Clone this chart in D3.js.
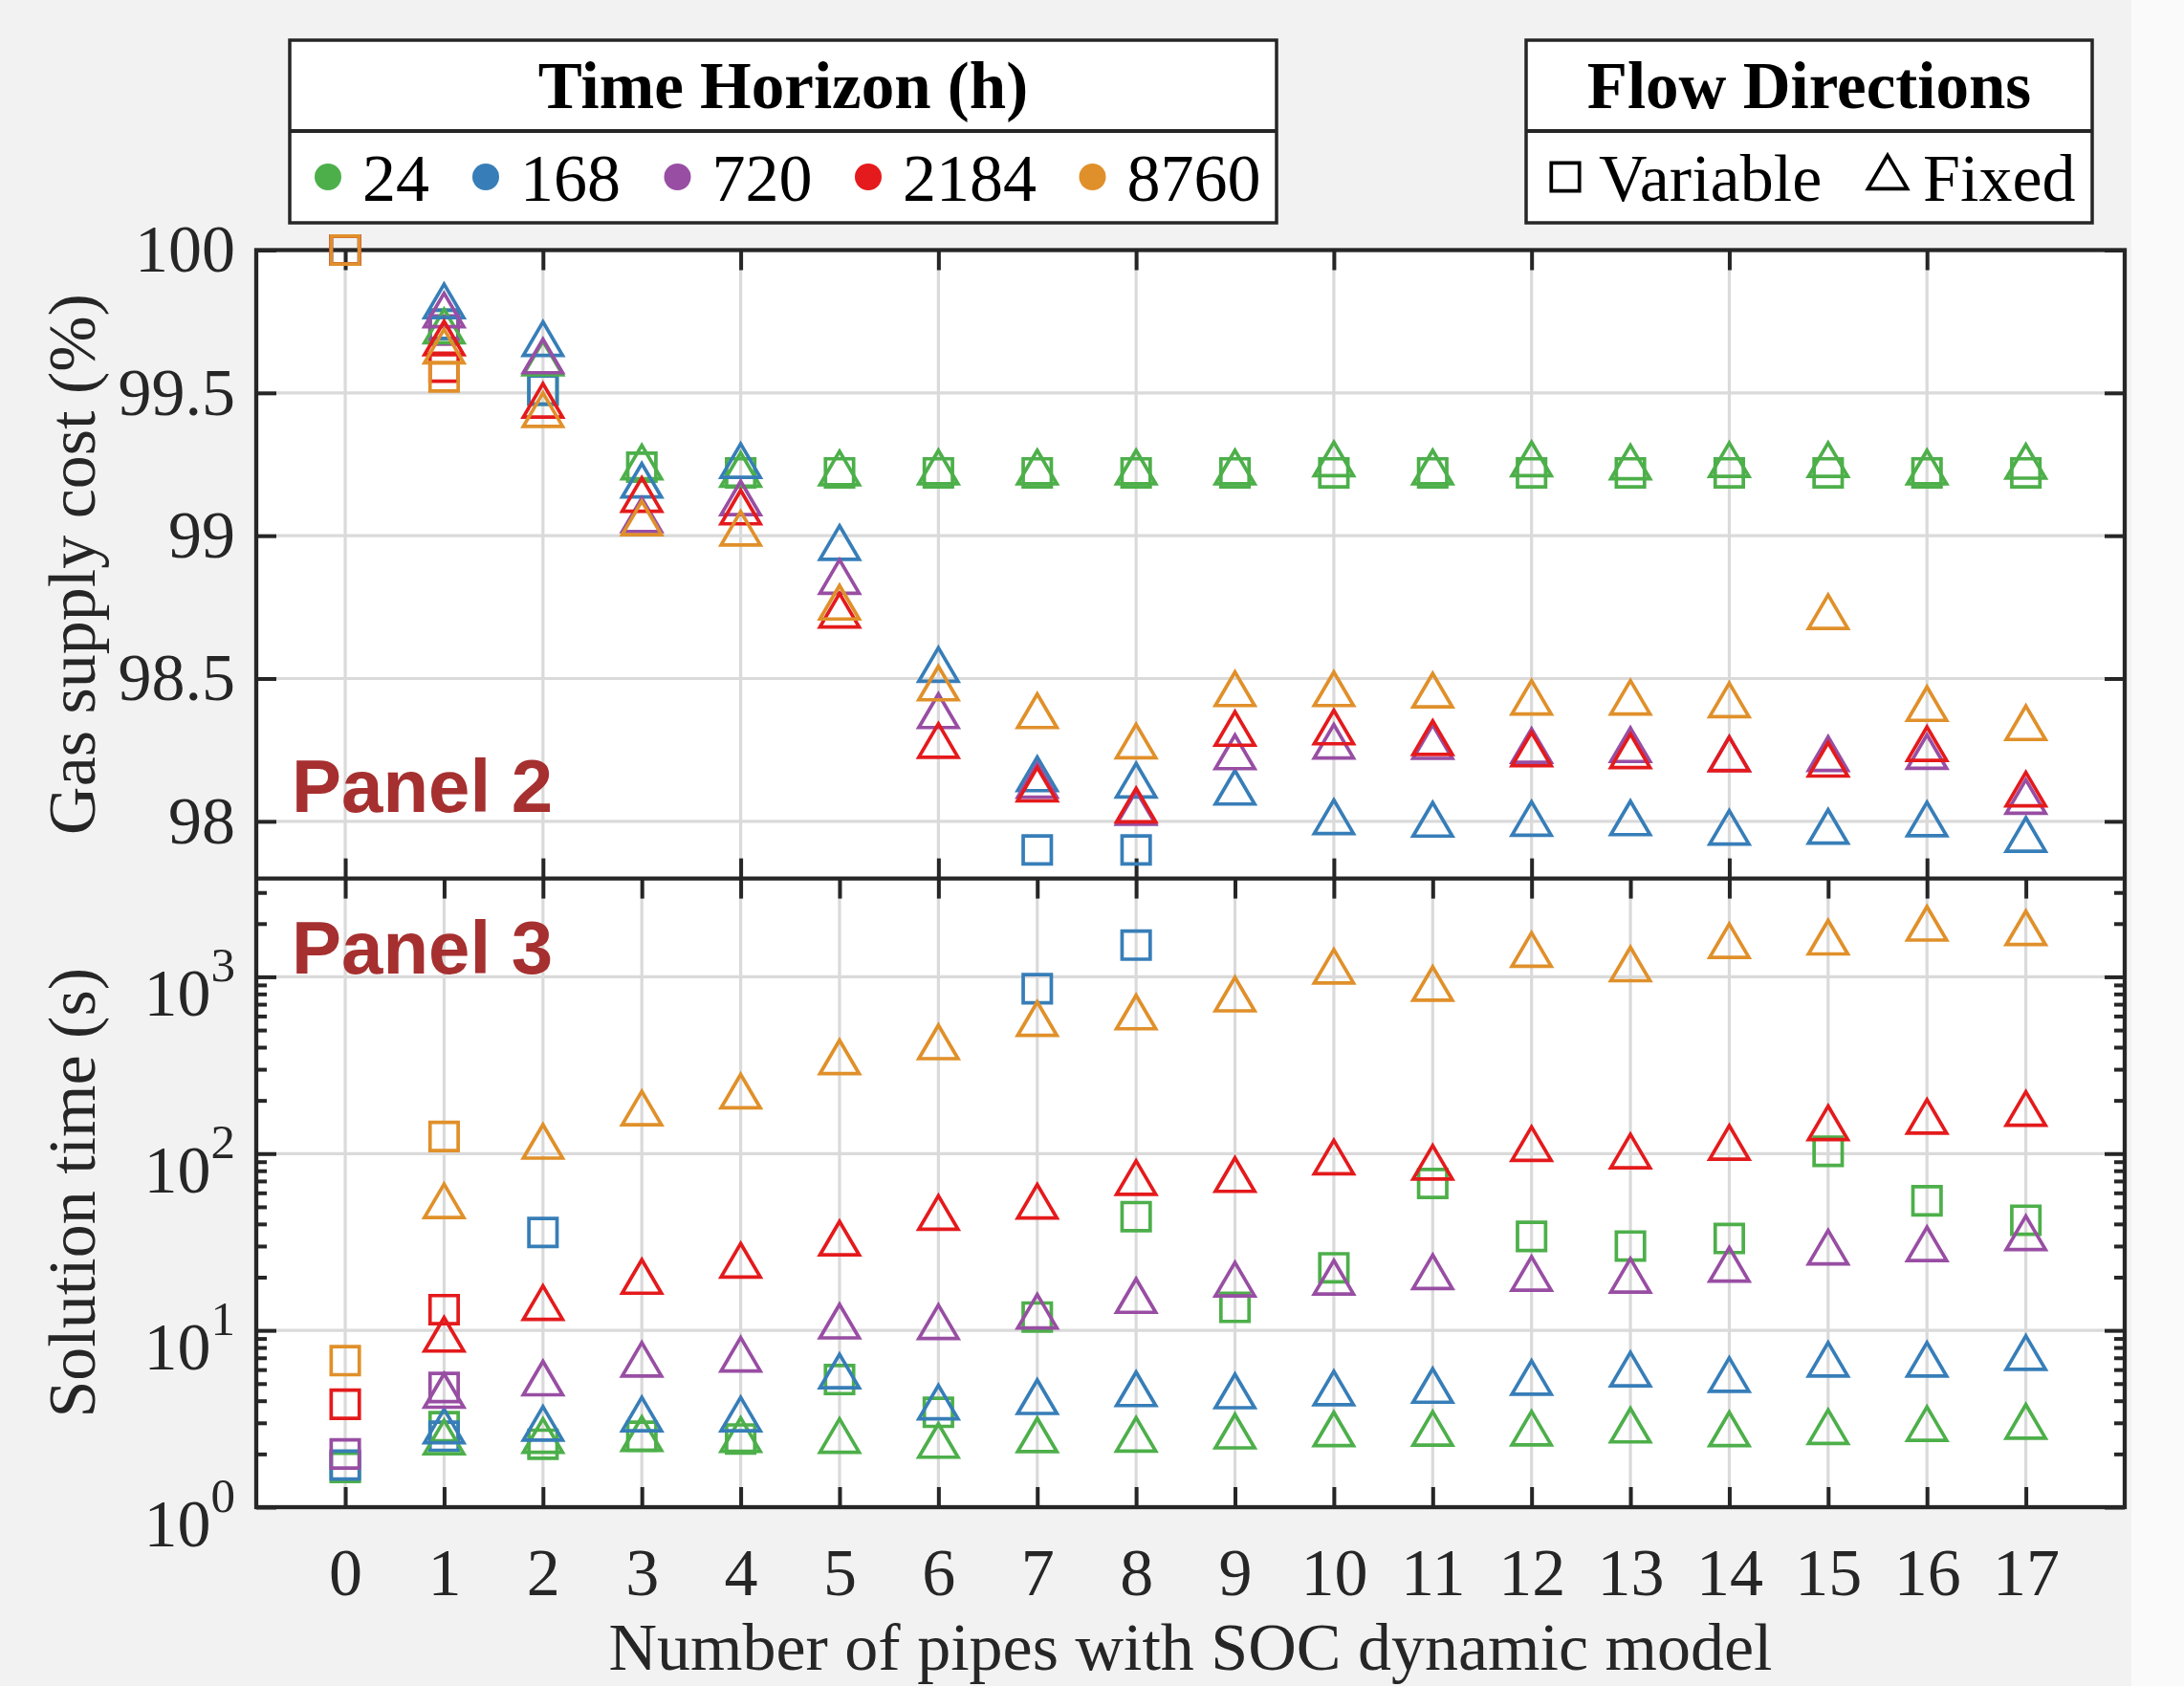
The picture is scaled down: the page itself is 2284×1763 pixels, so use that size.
<!DOCTYPE html>
<html><head><meta charset="utf-8">
<script src="https://cdn.jsdelivr.net/npm/d3@7"></script>
<style>body{margin:0;background:#F2F2F2;} svg{display:block}</style>
</head><body><svg id="c" width="2284" height="1763"></svg>
<script>
// ---------------- DATA ----------------
const pipes = [0,1,2,3,4,5,6,7,8,9,10,11,12,13,14,15,16,17];
const horizons = ["24","168","720","2184","8760"];
const seriesColors = ["#4DAF4A","#377EB8","#984EA3","#E41A1C","#E0902A"];
const flowLabels = ["Variable","Fixed"];
const costTicks = [98, 98.5, 99, 99.5, 100];
const timeTicks = [1, 10, 100, 1000];
const timeTickExp = ["0","1","2","3"];
const costPipeTicks = [0,2,4,6,8,10,12,14,16];

// Gas supply cost (%) – variable flow directions (squares)
const costVar24   = [100, 99.74, 99.51, 99.24, 99.22, 99.22, 99.22, 99.22, 99.22, 99.22, 99.22, 99.22, 99.22, 99.22, 99.22, 99.22, 99.22, 99.22];
const costVar168  = [100, 99.74, 99.51, null, null, null, null, 97.90, 97.90, null, null, null, null, null, null, null, null, null];
const costVar720  = [100, 99.72, null, null, null, null, null, null, null, null, null, null, null, null, null, null, null, null];
const costVar2184 = [100, 99.59, null, null, null, null, null, null, null, null, null, null, null, null, null, null, null, null];
const costVar8760 = [100, 99.556, null, null, null, null, null, null, null, null, null, null, null, null, null, null, null, null];
// Gas supply cost (%) – fixed flow directions (triangles)
const costFix24   = [null, 99.737, 99.625, 99.261, 99.235, 99.240, 99.243, 99.243, 99.243, 99.243, 99.272, 99.243, 99.272, 99.261, 99.269, 99.269, 99.243, 99.263];
const costFix168  = [null, 99.825, 99.693, 99.197, 99.266, 98.979, 98.552, 98.169, 98.147, 98.122, 98.019, 98.010, 98.013, 98.015, 97.982, 97.985, 98.011, 97.957];
const costFix720  = [null, 99.793, 99.632, 99.076, 99.135, 98.860, 98.390, 98.146, 98.051, 98.246, 98.283, 98.282, 98.268, 98.271, 98.240, 98.240, 98.247, 98.090];
const costFix2184 = [null, 99.695, 99.477, 99.147, 99.103, 98.742, 98.286, 98.133, 98.060, 98.328, 98.333, 98.296, 98.256, 98.250, 98.239, 98.220, 98.275, 98.116];
const costFix8760 = [null, 99.667, 99.444, 99.065, 99.029, 98.770, 98.487, 98.390, 98.284, 98.467, 98.467, 98.462, 98.437, 98.437, 98.428, 98.737, 98.415, 98.348];

// Solution time (s) – variable flow directions (squares)
const timeVar24   = [1.68, 2.85, 2.27, 2.52, 2.43, 5.27, 3.44, 11.9, 44.0, 13.5, 22.6, 67.8, 34.0, 30.0, 33.1, 103, 54.1, 42.0];
const timeVar168  = [1.73, 2.52, 35.8, null, null, null, null, 856, 1511, null, null, null, null, null, null, null, null, null];
const timeVar720  = [2.00, 4.75, null, null, null, null, null, null, null, null, null, null, null, null, null, null, null, null];
const timeVar2184 = [3.82, 13.1, null, null, null, null, null, null, null, null, null, null, null, null, null, null, null, null];
const timeVar8760 = [6.74, 125, null, null, null, null, null, null, null, null, null, null, null, null, null, null, null, null];
// Solution time (s) – fixed flow directions (triangles)
const timeFix24   = [null, 2.52, 2.57, 2.63, 2.60, 2.57, 2.41, 2.59, 2.61, 2.72, 2.80, 2.82, 2.83, 2.94, 2.80, 2.88, 3.00, 3.09];
const timeFix168  = [null, 2.91, 3.01, 3.40, 3.40, 5.95, 3.97, 4.26, 4.72, 4.59, 4.77, 4.93, 5.47, 6.10, 5.68, 6.93, 6.93, 7.57];
const timeFix720  = [null, 4.62, 5.43, 6.93, 7.40, 11.4, 11.3, 12.97, 15.9, 19.7, 20.2, 21.7, 21.2, 20.7, 23.9, 29.9, 31.2, 36.0];
const timeFix2184 = [null, 9.6, 14.5, 20.4, 25.2, 33.6, 46.9, 54.3, 73.9, 76.9, 96.7, 90.3, 115, 104.5, 117, 151, 164, 182];
const timeFix8760 = [null, 54.7, 118.5, 183, 228, 356, 433, 586, 639, 807, 1160, 926, 1442, 1195, 1619, 1693, 2029, 1913];

// ---------------- LAYOUT ----------------
const W = 2284, H = 1763;
const L = 268, R = 2222, T2 = 261.5, B2 = 918.6, T3 = 918.6, B3 = 1576;
const AX = "#262626", GRID = "#DADADA";
const SERIF = "'Liberation Serif','Times New Roman',serif";
const SANS = "'Liberation Sans',Arial,sans-serif";
const FS = 70;
const MSW = 3.7;
const TW = 41, TH = 35, TOFF = 0.85, SQ = 29.4;

const svg = d3.select("#c");
svg.append("rect").attr("width", W).attr("height", H).attr("fill", "#F2F2F2");
svg.append("rect").attr("x", 2229).attr("width", W - 2229).attr("height", H).attr("fill", "#FAFAFA");

const x = d3.scaleLinear().domain([-0.9, 18]).range([L, R]);
const y2 = d3.scaleLinear().domain([97.8, 100]).range([B2, T2]);
const y3 = d3.scaleLog().domain([1, 3600]).range([B3, T3]);

svg.append("rect").attr("x", L).attr("y", T2).attr("width", R - L).attr("height", B3 - T2).attr("fill", "#fff");

// grid
const grid = svg.append("g").attr("stroke", GRID).attr("stroke-width", 3.2);
grid.selectAll(".gx2").data(costPipeTicks).join("line").attr("class","gx2")
  .attr("x1", d => x(d)).attr("x2", d => x(d)).attr("y1", T2).attr("y2", B2);
grid.selectAll(".gy2").data(costTicks.filter(d => d < 100)).join("line").attr("class","gy2")
  .attr("x1", L).attr("x2", R).attr("y1", d => y2(d)).attr("y2", d => y2(d));
grid.selectAll(".gx3").data(pipes).join("line").attr("class","gx3")
  .attr("x1", d => x(d)).attr("x2", d => x(d)).attr("y1", T3).attr("y2", B3);
grid.selectAll(".gy3").data(timeTicks.filter(d => d > 1)).join("line").attr("class","gy3")
  .attr("x1", L).attr("x2", R).attr("y1", d => y3(d)).attr("y2", d => y3(d));

function styleAxis(g) {
  g.attr("color", AX).attr("font-family", SERIF).attr("font-size", FS);
  g.select(".domain").remove();
  g.selectAll("line").attr("stroke-width", 4);
}

// panel 2 axes
svg.append("g").attr("transform", `translate(${L},0)`)
  .call(d3.axisLeft(y2).tickValues(costTicks).tickSizeInner(-21).tickSizeOuter(0).tickPadding(22).tickFormat(d => String(d)))
  .call(styleAxis);
svg.append("g").attr("transform", `translate(${R},0)`)
  .call(d3.axisRight(y2).tickValues(costTicks).tickSizeInner(-21).tickSizeOuter(0).tickFormat(""))
  .call(styleAxis);
svg.append("g").attr("transform", `translate(0,${T2})`)
  .call(d3.axisTop(x).tickValues(costPipeTicks).tickSizeInner(-21).tickSizeOuter(0).tickFormat(""))
  .call(styleAxis);
svg.append("g").attr("transform", `translate(0,${B2})`)
  .call(d3.axisBottom(x).tickValues(costPipeTicks).tickSizeInner(-21).tickSizeOuter(0).tickFormat(""))
  .call(styleAxis);

// panel 3 axes
const minorTicks = [];
[1, 10, 100, 1000].forEach(dec => [2,3,4,5,6,7,8,9].forEach(m => { if (m * dec <= 3600) minorTicks.push(m * dec); }));
svg.append("g").attr("transform", `translate(${L},0)`)
  .call(d3.axisLeft(y3).tickValues(timeTicks).tickSizeInner(-21).tickSizeOuter(0).tickFormat(""))
  .call(styleAxis);
svg.append("g").attr("transform", `translate(${L},0)`)
  .call(d3.axisLeft(y3).tickValues(minorTicks).tickSizeInner(-11).tickSizeOuter(0).tickFormat(""))
  .call(styleAxis);
svg.append("g").attr("transform", `translate(${R},0)`)
  .call(d3.axisRight(y3).tickValues(timeTicks).tickSizeInner(-21).tickSizeOuter(0).tickFormat(""))
  .call(styleAxis);
svg.append("g").attr("transform", `translate(${R},0)`)
  .call(d3.axisRight(y3).tickValues(minorTicks).tickSizeInner(-11).tickSizeOuter(0).tickFormat(""))
  .call(styleAxis);
svg.append("g").attr("transform", `translate(0,${T3})`)
  .call(d3.axisTop(x).tickValues(pipes).tickSizeInner(-21).tickSizeOuter(0).tickFormat(""))
  .call(styleAxis);
svg.append("g").attr("transform", `translate(0,${B3})`)
  .call(d3.axisBottom(x).tickValues(pipes).tickSizeInner(-21).tickSizeOuter(0).tickPadding(42).tickFormat(d => String(d)))
  .call(styleAxis);

// log labels with superscripts
const logLab = svg.append("g").attr("font-family", SERIF).attr("fill", AX).attr("text-anchor", "end");
logLab.selectAll("text").data(timeTicks).join("text")
  .attr("x", L - 22).attr("y", d => y3(d) + 41).attr("font-size", FS)
  .each(function(d, i) {
    const t = d3.select(this);
    t.append("tspan").text("10");
    t.append("tspan").attr("dy", -36).attr("font-size", 51).text(timeTickExp[i]);
  });

// frame
svg.append("rect").attr("x", L).attr("y", T2).attr("width", R - L).attr("height", B3 - T2)
  .attr("fill", "none").attr("stroke", AX).attr("stroke-width", 4.3);
svg.append("line").attr("x1", L).attr("x2", R).attr("y1", B2).attr("y2", B2).attr("stroke", AX).attr("stroke-width", 4.3);

// axis labels
svg.append("text").attr("transform", `translate(99,${(T2 + B2) / 2}) rotate(-90)`)
  .attr("text-anchor", "middle").attr("font-family", SERIF).attr("font-size", FS).attr("fill", AX)
  .text("Gas supply cost (%)");
svg.append("text").attr("transform", `translate(99,${(T3 + B3) / 2}) rotate(-90)`)
  .attr("text-anchor", "middle").attr("font-family", SERIF).attr("font-size", FS).attr("fill", AX)
  .text("Solution time (s)");
svg.append("text").attr("x", (L + R) / 2).attr("y", 1746)
  .attr("text-anchor", "middle").attr("font-family", SERIF).attr("font-size", FS).attr("fill", AX)
  .text("Number of pipes with SOC dynamic model");

// panel labels
svg.append("text").attr("x", 305).attr("y", 849).attr("font-family", SANS).attr("font-weight", "bold")
  .attr("font-size", 78).attr("fill", "#A62F2F").text("Panel 2");
svg.append("text").attr("x", 305).attr("y", 1018).attr("font-family", SANS).attr("font-weight", "bold")
  .attr("font-size", 78).attr("fill", "#A62F2F").text("Panel 3");

// markers
const sqPath = `M${-SQ/2},${-SQ/2}H${SQ/2}V${SQ/2}H${-SQ/2}Z`;
const triPath = `M0,${-TH/2 + TOFF}L${TW/2},${TH/2 + TOFF}L${-TW/2},${TH/2 + TOFF}Z`;

function flatten(list) {
  const out = [];
  list.forEach((arr, si) => arr.forEach((v, j) => { if (v != null) out.push({ p: pipes[j], v, c: seriesColors[si] }); }));
  return out;
}
function drawMarkers(points, yScale, path) {
  svg.append("g").selectAll("path").data(points).join("path")
    .attr("d", path)
    .attr("transform", d => `translate(${x(d.p)},${yScale(d.v)})`)
    .attr("fill", "none").attr("stroke", d => d.c).attr("stroke-width", MSW)
    .attr("stroke-linejoin", "miter").attr("stroke-miterlimit", 10);
}
drawMarkers(flatten([costVar24, costVar168, costVar720, costVar2184, costVar8760]), y2, sqPath);
drawMarkers(flatten([costFix24, costFix168, costFix720, costFix2184, costFix8760]), y2, triPath);
drawMarkers(flatten([timeVar24, timeVar168, timeVar720, timeVar2184, timeVar8760]), y3, sqPath);
drawMarkers(flatten([timeFix24, timeFix168, timeFix720, timeFix2184, timeFix8760]), y3, triPath);

// legends
function legendBox(x0, x1) {
  const g = svg.append("g");
  g.append("rect").attr("x", x0).attr("y", 42).attr("width", x1 - x0).attr("height", 191)
    .attr("fill", "#fff").attr("stroke", AX).attr("stroke-width", 3.5);
  g.append("line").attr("x1", x0).attr("x2", x1).attr("y1", 137).attr("y2", 137)
    .attr("stroke", AX).attr("stroke-width", 4);
  return g;
}
const lg1 = legendBox(303, 1335);
lg1.append("text").attr("x", 819).attr("y", 113).attr("text-anchor", "middle")
  .attr("font-family", SERIF).attr("font-weight", "bold").attr("font-size", 69).attr("fill", "#000")
  .text("Time Horizon (h)");
const dotX = [343, 508, 708.5, 908, 1142.5];
lg1.selectAll("circle").data(horizons).join("circle")
  .attr("cx", (d, i) => dotX[i]).attr("cy", 185).attr("r", 14).attr("fill", (d, i) => seriesColors[i]);
lg1.selectAll(".lt").data(horizons).join("text").attr("class", "lt")
  .attr("x", (d, i) => dotX[i] + 36).attr("y", 210)
  .attr("font-family", SERIF).attr("font-size", FS).attr("fill", "#000").text(d => d);

const lg2 = legendBox(1596, 2188);
lg2.append("text").attr("x", 1892).attr("y", 113).attr("text-anchor", "middle")
  .attr("font-family", SERIF).attr("font-weight", "bold").attr("font-size", 69).attr("fill", "#000")
  .text("Flow Directions");
lg2.append("path").attr("d", sqPath).attr("transform", "translate(1637,185)")
  .attr("fill", "none").attr("stroke", "#000").attr("stroke-width", MSW);
lg2.append("path").attr("d", triPath).attr("transform", "translate(1974,179)")
  .attr("fill", "none").attr("stroke", "#000").attr("stroke-width", MSW);
lg2.append("text").attr("x", 1672).attr("y", 210).attr("font-family", SERIF).attr("font-size", FS)
  .attr("fill", "#000").text(flowLabels[0]);
lg2.append("text").attr("x", 2011).attr("y", 210).attr("font-family", SERIF).attr("font-size", FS)
  .attr("fill", "#000").text(flowLabels[1]);
</script></body></html>
